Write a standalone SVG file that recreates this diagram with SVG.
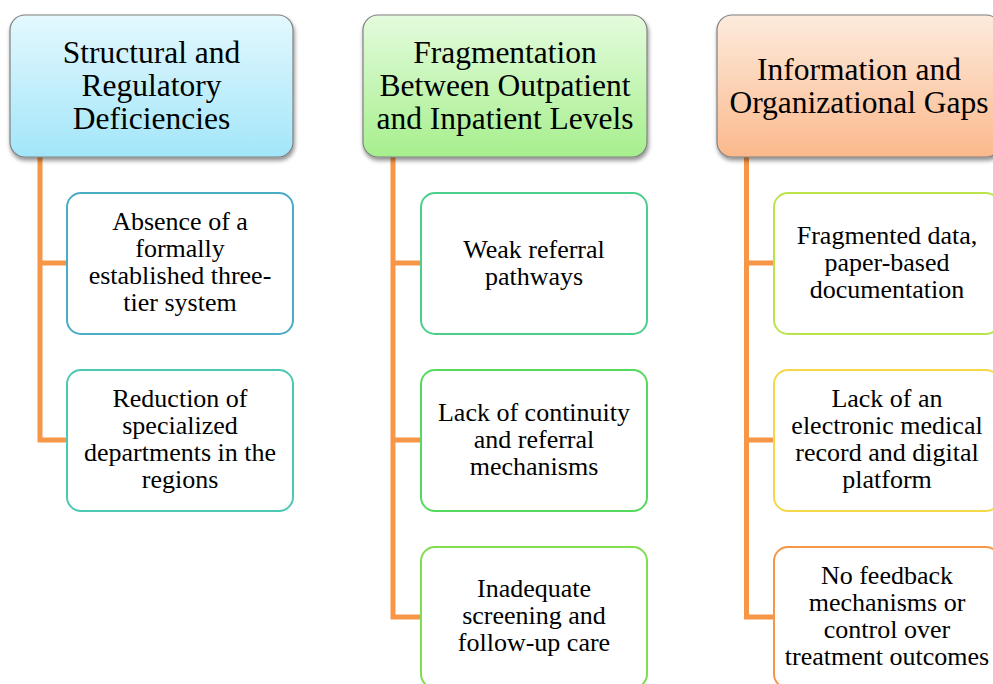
<svg xmlns="http://www.w3.org/2000/svg" width="993" height="684" viewBox="0 0 993 684">
  <defs>
    <linearGradient id="gBlue" x1="0" y1="0" x2="0" y2="1">
      <stop offset="0" stop-color="#E4F8FE"/>
      <stop offset="1" stop-color="#A2E6F9"/>
    </linearGradient>
    <linearGradient id="gGreen" x1="0" y1="0" x2="0" y2="1">
      <stop offset="0" stop-color="#E4FBDD"/>
      <stop offset="1" stop-color="#A6EF8D"/>
    </linearGradient>
    <linearGradient id="gOrange" x1="0" y1="0" x2="0" y2="1">
      <stop offset="0" stop-color="#FDEBDD"/>
      <stop offset="1" stop-color="#FBB98C"/>
    </linearGradient>
    <filter id="shadow" x="-10%" y="-10%" width="125%" height="130%">
      <feDropShadow dx="1" dy="3" stdDeviation="2" flood-color="#000" flood-opacity="0.45"/>
    </filter>
  </defs>
  <style>
    text { font-family: "Liberation Serif", "Times New Roman", serif; fill: #000; text-anchor: middle; }
    .head rect { stroke: #808080; stroke-width: 1.2; filter: url(#shadow); }
    .head text { font-size: 31.5px; }
    .item rect { fill: #fff; stroke-width: 2; }
    .item text { font-size: 26px; }
    .conn path { fill: none; stroke: #F79646; stroke-width: 5; stroke-linejoin: miter; }
  </style>

  <rect width="993" height="684" fill="#fff"/>

  <!-- tree connectors: one trunk per column, one branch per item -->
  <g id="connectors" class="conn">
    <path d="M40 157 V440 H67 M40 263 H67"/>
    <path d="M393 157 V617 H421 M393 263 H421 M393 440 H421"/>
    <path d="M746.5 157 V617 H774 M746.5 263 H774 M746.5 440 H774"/>
  </g>

  <!-- column 1 -->
  <g id="head-structural" class="head">
    <rect x="10" y="15" width="283" height="142" rx="15" fill="url(#gBlue)"/>
    <text x="151.5" y="63">Structural and</text>
    <text x="151.5" y="96">Regulatory</text>
    <text x="151.5" y="128.5">Deficiencies</text>
  </g>
  <g id="item-three-tier" class="item">
    <rect x="67" y="193" width="226" height="141" rx="14" stroke="#4BACC6"/>
    <text x="180" y="230">Absence of a</text>
    <text x="180" y="257">formally</text>
    <text x="180" y="284">established three-</text>
    <text x="180" y="311">tier system</text>
  </g>
  <g id="item-specialized" class="item">
    <rect x="67" y="370" width="226" height="141" rx="14" stroke="#4BC9B2"/>
    <text x="180" y="407">Reduction of</text>
    <text x="180" y="434">specialized</text>
    <text x="180" y="461">departments in the</text>
    <text x="180" y="488">regions</text>
  </g>

  <!-- column 2 -->
  <g id="head-fragmentation" class="head">
    <rect x="363" y="15" width="284" height="142" rx="15" fill="url(#gGreen)"/>
    <text x="505" y="63">Fragmentation</text>
    <text x="505" y="96">Between Outpatient</text>
    <text x="505" y="128.5">and Inpatient Levels</text>
  </g>
  <g id="item-referral" class="item">
    <rect x="421" y="193" width="226" height="141" rx="14" stroke="#4BD08C"/>
    <text x="534" y="258">Weak referral</text>
    <text x="534" y="285">pathways</text>
  </g>
  <g id="item-continuity" class="item">
    <rect x="421" y="370" width="226" height="141" rx="14" stroke="#55D95E"/>
    <text x="534" y="421">Lack of continuity</text>
    <text x="534" y="448">and referral</text>
    <text x="534" y="475">mechanisms</text>
  </g>
  <g id="item-screening" class="item">
    <rect x="421" y="547" width="226" height="141" rx="14" stroke="#7FDD4E"/>
    <text x="534" y="597">Inadequate</text>
    <text x="534" y="624">screening and</text>
    <text x="534" y="651">follow-up care</text>
  </g>

  <!-- column 3 -->
  <g id="head-information" class="head">
    <rect x="717" y="15" width="284" height="142" rx="15" fill="url(#gOrange)"/>
    <text x="859" y="80">Information and</text>
    <text x="859" y="112.5">Organizational Gaps</text>
  </g>
  <g id="item-data" class="item">
    <rect x="774" y="193" width="226" height="141" rx="14" stroke="#BBE44C"/>
    <text x="887" y="244">Fragmented data,</text>
    <text x="887" y="271">paper-based</text>
    <text x="887" y="298">documentation</text>
  </g>
  <g id="item-emr" class="item">
    <rect x="774" y="370" width="226" height="141" rx="14" stroke="#F5D84A"/>
    <text x="887" y="407">Lack of an</text>
    <text x="887" y="434">electronic medical</text>
    <text x="887" y="461">record and digital</text>
    <text x="887" y="488">platform</text>
  </g>
  <g id="item-feedback" class="item">
    <rect x="774" y="547" width="226" height="141" rx="14" stroke="#F79646"/>
    <text x="887" y="584">No feedback</text>
    <text x="887" y="611">mechanisms or</text>
    <text x="887" y="638">control over</text>
    <text x="887" y="665">treatment outcomes</text>
  </g>
</svg>
